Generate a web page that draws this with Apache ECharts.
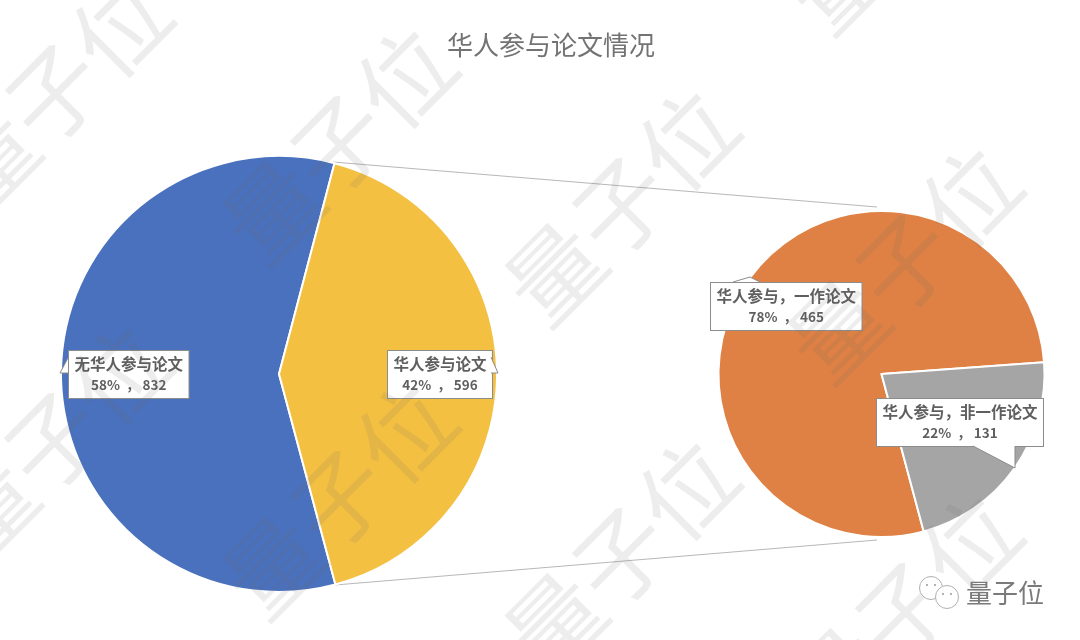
<!DOCTYPE html>
<html>
<head>
<meta charset="utf-8">
<style>html,body{margin:0;padding:0;background:#fff}#chart{width:1080px;height:640px}</style>
<script src="https://cdn.jsdelivr.net/npm/echarts@6/dist/echarts.min.js"></script>
</head>
<body>
<div id="chart"></div>
<script>
const mainNames = ['无华人参与论文', '华人参与论文']
const mainValues = [832, 596]
const mainPercents = ['58%', '42%']
const subNames = ['华人参与，一作论文', '华人参与，非一作论文']
const subValues = [465, 131]
const subPercents = ['78%', '22%']

const cjk = '"Noto Sans CJK SC"'
const mainCenter = [279, 374], mainR = 218
const subCenter = [881.5, 374], subR = 163

const myChart = echarts.init(document.getElementById('chart'))

// 标签框的左上角
const mainBox = [[68, 350], [387, 350]]
const subBox = [[710, 282], [876, 398]]

const boxLabel = (percents, values) => ({
    show: true,
    position: 'inside',
    formatter: p => '{name|' + p.name + '}\n{val|' + percents[p.dataIndex] + '  ， ' + values[p.dataIndex] + '}',
    backgroundColor: '#fff',
    borderColor: '#8c8c8c',
    borderWidth: 1,
    padding: [3, 5.5, 3, 5.5],
    align: 'center',
    rich: {
        name: { fontFamily: cjk, fontSize: 15.5, fontWeight: 'bold', lineHeight: 21, color: '#5f5f5f', align: 'center' },
        val: { fontFamily: cjk, fontSize: 13.5, fontWeight: 'bold', lineHeight: 20, color: '#5f5f5f', align: 'center' }
    }
})

// 水印，坐标是“子”字的中心
const wmPos = [
    [54, 93], [339, 144], [621, 206], [904, 263],
    [53, 441], [339, 499], [621, 556], [904, 611],
    [904, -86]
]
const watermark = wmPos.map(p => ({
    type: 'text',
    x: p[0], y: p[1],
    rotation: Math.PI / 4,
    z: 50, silent: true,
    style: {
        text: '量子位',
        font: '94px ' + cjk,
        fill: 'rgba(110,110,110,0.12)',
        align: 'center', verticalAlign: 'middle'
    }
}))

const line = (x1, y1, x2, y2) => ({
    type: 'line', z: 1, silent: true,
    shape: { x1, y1, x2, y2 },
    style: { stroke: '#b8b8b8', lineWidth: 1 }
})
// 标签框的小尖角，底边不描线，和框连起来
const tail = (points) => [
    { type: 'polygon', z: 40, silent: true, shape: { points }, style: { fill: '#fff' } },
    { type: 'polyline', z: 41, silent: true, shape: { points }, style: { stroke: '#8c8c8c', lineWidth: 1, fill: null } }
]

const bubble = (cx, cy, z) => [
    { type: 'circle', z, silent: true, shape: { cx, cy, r: 11.5 }, style: { fill: '#fff', stroke: '#b0b0b0', lineWidth: 1 } },
    { type: 'circle', z, silent: true, shape: { cx: cx - 4, cy: cy - 3, r: 1 }, style: { fill: '#999' } },
    { type: 'circle', z, silent: true, shape: { cx: cx + 4, cy: cy - 3, r: 1 }, style: { fill: '#999' } }
]

const option = {
    backgroundColor: '#fff',
    title: {
        text: '华人参与论文情况',
        left: 546, top: 27, textAlign: 'center',
        textStyle: { color: '#737373', fontSize: 26, fontWeight: 'normal', fontFamily: cjk }
    },
    graphic: [
        line(333, 162, 877, 207),
        line(335, 585, 877, 540),
        ...tail([[68, 358], [60, 373], [68, 373]]),
        ...tail([[491, 357], [498, 373], [491, 373]]),
        ...tail([[733, 282], [750, 277], [760, 282]]),
        ...tail([[973, 446], [1015, 468], [1015, 446]]),
        ...watermark,
        {
            type: 'text', x: 966, y: 593, z: 60, silent: true,
            style: { text: '量子位', font: '26px ' + cjk, fill: '#7a7a7a', verticalAlign: 'middle' }
        },
        ...bubble(931, 588, 60),
        ...bubble(947, 597, 61)
    ],
    series: [
        {
            type: 'pie',
            center: mainCenter,
            radius: mainR,
            startAngle: -75,
            animation: false,
            silent: true,
            itemStyle: { borderColor: '#fff', borderWidth: 2 },
            label: boxLabel(mainPercents, mainValues),
            labelLine: { show: false },
            labelLayout: p => ({ x: mainBox[p.dataIndex][0] + p.labelRect.width / 2, y: mainBox[p.dataIndex][1] + p.labelRect.height / 2, align: 'center', verticalAlign: 'middle' }),
            data: mainNames.map((name, i) => ({ name, value: mainValues[i], itemStyle: { color: ['#4a71bd', '#f4c042'][i] } }))
        },
        {
            type: 'pie',
            center: subCenter,
            radius: subR,
            startAngle: -75,
            animation: false,
            silent: true,
            itemStyle: { borderColor: '#fff', borderWidth: 2 },
            label: boxLabel(subPercents, subValues),
            labelLine: { show: false },
            labelLayout: p => ({ x: subBox[p.dataIndex][0] + p.labelRect.width / 2, y: subBox[p.dataIndex][1] + p.labelRect.height / 2, align: 'center', verticalAlign: 'middle' }),
            data: subNames.map((name, i) => ({ name, value: subValues[i], itemStyle: { color: ['#df8144', '#a5a5a5'][i] } }))
        }
    ]
}
myChart.setOption(option)
</script>
</body>
</html>
